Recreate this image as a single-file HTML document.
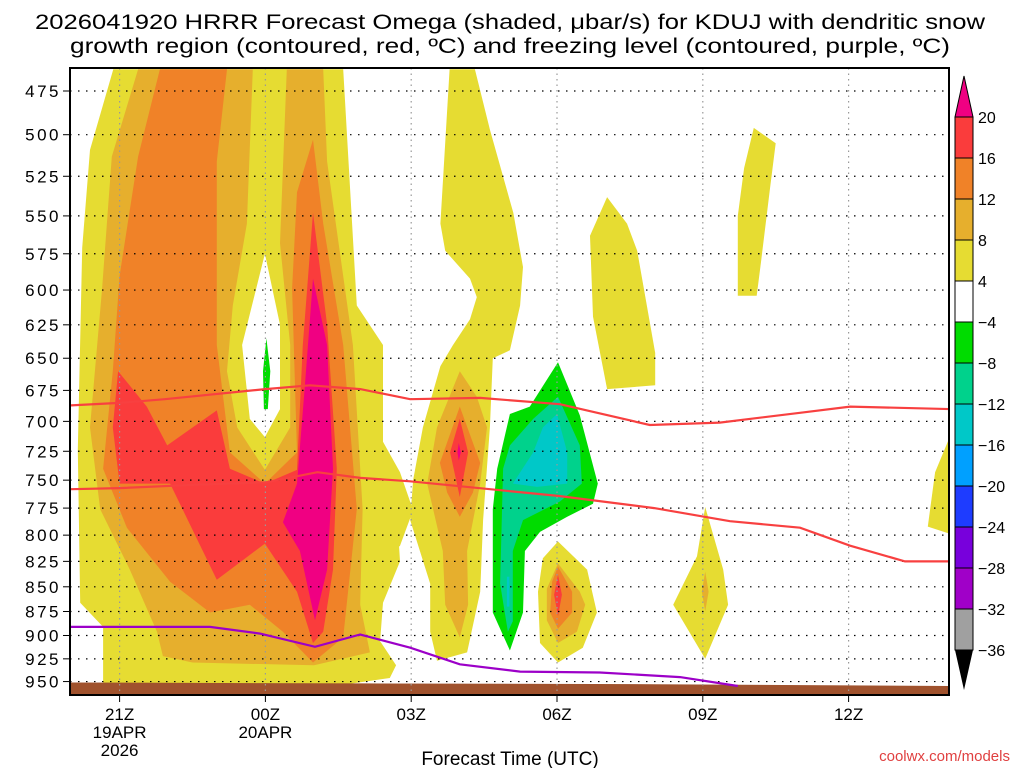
<!DOCTYPE html>
<html><head><meta charset="utf-8"><style>
html,body{margin:0;padding:0;background:#fff;}
svg{display:block;font-family:"Liberation Sans","DejaVu Sans",sans-serif;}
</style></head><body>
<svg id="chart" width="1024" height="768" viewBox="0 0 1024 768">
<g>
<text x="510" y="29" font-size="21" text-anchor="middle" textLength="950" lengthAdjust="spacingAndGlyphs">2026041920 HRRR Forecast Omega (shaded, μbar/s) for KDUJ with dendritic snow</text>
<text x="510" y="53" font-size="21" text-anchor="middle" textLength="880" lengthAdjust="spacingAndGlyphs">growth region (contoured, red, ºC) and freezing level (contoured, purple, ºC)</text>
</g>
<defs><clipPath id="plotclip"><rect x="70" y="68" width="879" height="627"/></clipPath></defs>
<g id="shade" clip-path="url(#plotclip)"></g>
<g id="grid"></g>
<g id="lines" clip-path="url(#plotclip)"></g>
<g id="axes"></g>
<g id="cbar"></g>
<text x="510" y="765" font-size="19" text-anchor="middle">Forecast Time (UTC)</text>
<text x="1010" y="761" font-size="15" fill="#e04040" text-anchor="end">coolwx.com/models</text>
</svg>
<script>
// ---- data (hour since 20Z, pressure hPa) ----
const pressureTicks=[475,500,525,550,575,600,625,650,675,700,725,750,775,800,825,850,875,900,925,950];
const timeTickHours=[1,4,7,10,13,16];
const timeTickLabels=[["21Z","19APR","2026"],["00Z","20APR"],["03Z"],["06Z"],["09Z"],["12Z"]];
const cbarLevels=[20,16,12,8,4,-4,-8,-12,-16,-20,-24,-28,-32,-36];
const cbarColors=["#fa3c3c","#f08228","#e6af2d","#e6dc32","#ffffff","#00dc00","#00d28c","#00c8c8","#00a0ff","#1e3cff","#7800dc","#a000c8","#a0a0a0"];
const dendriteTop=[[0,687],[1,685],[1.93,682],[4,674],[4.92,671],[5.95,674],[6.98,682],[8.42,681],[10.06,686],[11.91,703],[13.35,701],[15,693],[16.03,688],[18.1,690]];
const dendriteBottom=[[0,758],[1,757],[2.6,754],[4,752],[5.07,743],[5.95,748],[6.98,751],[10.02,764],[12.0,775],[13.56,787],[15,793],[16.03,810],[17.16,825],[18.1,825]];
const freezingLevel=[[0,891],[2.86,891],[3.89,898],[5.02,912],[5.95,899],[6.98,913],[8.0,931],[9.24,939],[10.88,940],[12.53,945],[13.72,955]];
const surfacePressure=[[0,951],[6,952],[12,953],[18.1,955]];
// shaded regions: [colour class, polygon]
const Y="#e6dc32",G="#e6af2d",O="#f08228",R="#fa3c3c",M="#f00082",GR="#00dc00",T="#00d28c",C="#00c8c8",W="#ffffff";
const regions=[
 [Y,[[0.87,463],[0.39,509],[0.23,571],[0.14,724],[0.19,866],[0.66,891],[0.66,958],[3.7,960],[5.3,956],[6.56,946],[6.69,932],[6.36,906],[6.42,866],[6.77,825],[6.67,754],[6.42,723],[6.42,640],[5.88,611],[5.6,463]]],
 [Y,[[6.42,717],[6.77,743],[7.04,777],[6.77,810],[6.42,825]]],
 [Y,[[7.79,463],[7.6,555],[7.7,573],[8.21,592],[8.35,605],[8.21,621],[7.86,640],[7.6,656],[7.24,705],[7.04,750],[6.98,786],[7.39,847],[7.39,896],[7.53,927],[8.15,918],[8.42,855],[8.48,786],[8.62,705],[8.68,650],[9.03,644],[9.24,611],[9.3,584],[9.1,548],[8.62,497],[8.31,463]]],
 [Y,[[11.03,538],[11.44,555],[11.65,573],[12.02,646],[12.02,671],[11.03,674],[10.74,619],[10.68,563]]],
 [Y,[[10.02,806],[10.62,833],[10.82,876],[10.53,913],[10.02,929],[9.65,908],[9.61,855],[9.71,822]]],
 [Y,[[13.05,774],[13.42,833],[13.52,868],[13.05,925],[12.39,868],[12.88,820]]],
 [Y,[[14.05,496],[14.5,505],[14.38,533],[14.2,580],[14.11,604],[13.72,604],[13.72,550],[13.85,520]]],
 [Y,[[18.1,711],[17.78,743],[17.63,792],[18.1,799]]],
 [G,[[1.38,463],[0.84,513],[0.64,599],[0.39,705],[0.6,776],[1.21,833],[1.77,896],[1.89,922],[2.5,929],[5.0,932],[6.15,918],[5.95,868],[6.0,776],[5.8,640],[5.27,516],[5.19,463]]],
 [Y,[[3.74,463],[3.62,555],[3.33,611],[3.21,660],[3.42,705],[3.99,741],[4.51,705],[4.51,640],[4.3,568],[4.44,463]]],
 [W,[[3.99,575],[3.52,640],[3.68,698],[3.99,713],[4.3,690],[4.3,625]]],
 [GR,[[4.02,635],[4.1,660],[4.05,690],[3.97,690],[3.95,660]]],
 [O,[[1.83,463],[1.38,513],[1.0,590],[0.86,660],[0.66,740],[1.15,793],[2.04,845],[2.86,876],[3.68,868],[4.36,896],[4.98,929],[5.6,902],[5.88,776],[5.6,640],[5.19,555],[4.98,503],[4.65,535],[4.55,599],[4.65,726],[3.99,753],[3.27,726],[3.0,640],[3.0,516],[3.21,463]]],
 [R,[[0.97,660],[1.56,688],[1.98,720],[3.0,691],[3.27,740],[3.99,753],[4.65,741],[4.77,640],[4.98,548],[5.27,625],[5.47,740],[5.39,833],[5.19,896],[4.98,908],[4.65,855],[3.99,808],[3.0,843],[2.04,753],[1.0,753],[0.86,705]]],
 [M,[[4.98,592],[5.27,640],[5.39,740],[5.27,833],[5.02,884],[4.71,815],[4.36,788],[4.65,753],[4.81,672]]],
 [G,[[8.0,660],[7.53,705],[7.33,753],[7.65,815],[7.7,868],[8.0,902],[8.17,868],[8.15,815],[8.42,753],[8.56,705],[8.35,680]]],
 [O,[[8.0,688],[7.59,735],[7.74,761],[8.0,783],[8.27,761],[8.42,735]]],
 [R,[[8.0,698],[7.8,726],[8.0,765],[8.17,726]]],
 [M,[[7.98,718],[7.95,726],[7.98,733],[8.02,726]]],
 [GR,[[10.02,653],[10.47,695],[10.84,753],[10.74,771],[10.21,783],[9.65,797],[9.34,815],[9.3,876],[9.03,916],[8.68,876],[8.68,776],[8.77,740],[9.03,694],[9.44,688]]],
 [T,[[10.02,680],[10.47,720],[10.51,753],[10.06,769],[9.3,786],[9.09,815],[9.09,885],[8.99,896],[8.83,847],[8.89,740],[9.03,720],[9.51,698]]],
 [C,[[10.0,694],[10.21,726],[10.21,753],[9.59,756],[9.09,753],[9.51,726],[9.71,705]]],
 [C,[[8.97,840],[9.02,840],[9.02,870],[8.97,870]]],
 [G,[[10.02,827],[10.47,855],[10.58,868],[10.41,896],[10.02,908],[9.79,884],[9.79,852]]],
 [O,[[10.02,830],[10.31,855],[10.31,876],[10.02,893],[9.86,876],[9.9,845]]],
 [R,[[10.02,838],[10.1,858],[10.02,880],[9.94,858]]],
 [G,[[13.05,835],[13.12,855],[13.05,875],[12.98,855]]]
];
// ---- axis functions ----
const X0=71,PXH=48.6,Y0=91,PXL=852,P0=475;
function X(h){return X0+h*PXH;}
function Yp(p){return Y0+PXL*Math.log(p/P0);}
const NS="http://www.w3.org/2000/svg";
function mk(tag,attrs,parent){const e=document.createElementNS(NS,tag);for(const k in attrs)e.setAttribute(k,attrs[k]);parent.appendChild(e);return e;}
function pts(arr){return arr.map(d=>X(d[0]).toFixed(1)+","+Yp(d[1]).toFixed(1)).join(" ");}
const shade=document.getElementById("shade");
regions.forEach((r,i)=>{
 const el=mk("polygon",{points:pts(r[1]),fill:r[0]},shade);
 
 
});
const groundPts=pts(surfacePressure)+" "+X(18.1)+",695 "+X(0)+",695";
const ground=mk("polygon",{points:groundPts,fill:"#a0522d"},shade);


// grid
const grid=document.getElementById("grid");
pressureTicks.forEach(p=>{
 const l=mk("line",{x1:70,x2:949,y1:Yp(p),y2:Yp(p),stroke:"#000","stroke-width":1.2,"stroke-dasharray":"1.5 6.5"},grid);
 
 
});
timeTickHours.forEach(h=>{
 const l=mk("line",{x1:X(h),x2:X(h),y1:68,y2:695,stroke:"#999","stroke-width":1.2,"stroke-dasharray":"1.5 4"},grid);
 
 
});
// contour lines
const lines=document.getElementById("lines");
[[dendriteTop,"#f84040","dendritic-top-contour"],[dendriteBottom,"#f84040","dendritic-bottom-contour"],[freezingLevel,"#9c00c8","freezing-level-contour"]].forEach(s=>{
 const l=mk("polyline",{points:pts(s[0]),fill:"none",stroke:s[1],"stroke-width":2.2},lines);
 
 
});
// axes
const axes=document.getElementById("axes");
mk("rect",{x:70,y:68,width:879,height:627,fill:"none",stroke:"#000","stroke-width":2},axes);
pressureTicks.forEach(p=>{
 const y=Yp(p);
 mk("line",{x1:63,x2:70,y1:y,y2:y,stroke:"#000","stroke-width":1},axes);
 const t=mk("text",{x:61,y:y+6,"font-size":17,"text-anchor":"end","letter-spacing":"2.5"},axes);
 t.textContent=p;
 
 
});
timeTickHours.forEach((h,i)=>{
 const x=X(h);
 mk("line",{x1:x,x2:x,y1:695,y2:702,stroke:"#000","stroke-width":1},axes);
 timeTickLabels[i].forEach((s,j)=>{
  const t=mk("text",{x:x,y:720+j*18,"font-size":17,"text-anchor":"middle"},axes);
  t.textContent=s;
  
  
 });
});
// colorbar
const cb=document.getElementById("cbar");
const CBX=955,CBW=18,CBTOP=117,CBSTEP=41;
mk("polygon",{points:`${CBX},${CBTOP} ${CBX+CBW},${CBTOP} ${CBX+CBW/2},76`,fill:"#f00082",stroke:"#000","stroke-width":1},cb);
cbarColors.forEach((c,i)=>{
 const r=mk("rect",{x:CBX,y:CBTOP+i*CBSTEP,width:CBW,height:CBSTEP,fill:c,stroke:"#000","stroke-width":1},cb);
 
 
});
const cbBot=CBTOP+cbarColors.length*CBSTEP;
mk("polygon",{points:`${CBX},${cbBot} ${CBX+CBW},${cbBot} ${CBX+CBW/2},${cbBot+40}`,fill:"#000"},cb);
cbarLevels.forEach((v,i)=>{
 const t=mk("text",{x:978,y:CBTOP+i*CBSTEP+6,"font-size":16},cb);
 t.textContent=(v<0?"\u2212"+(-v):String(v));
 
 
});
</script>
</body></html>
